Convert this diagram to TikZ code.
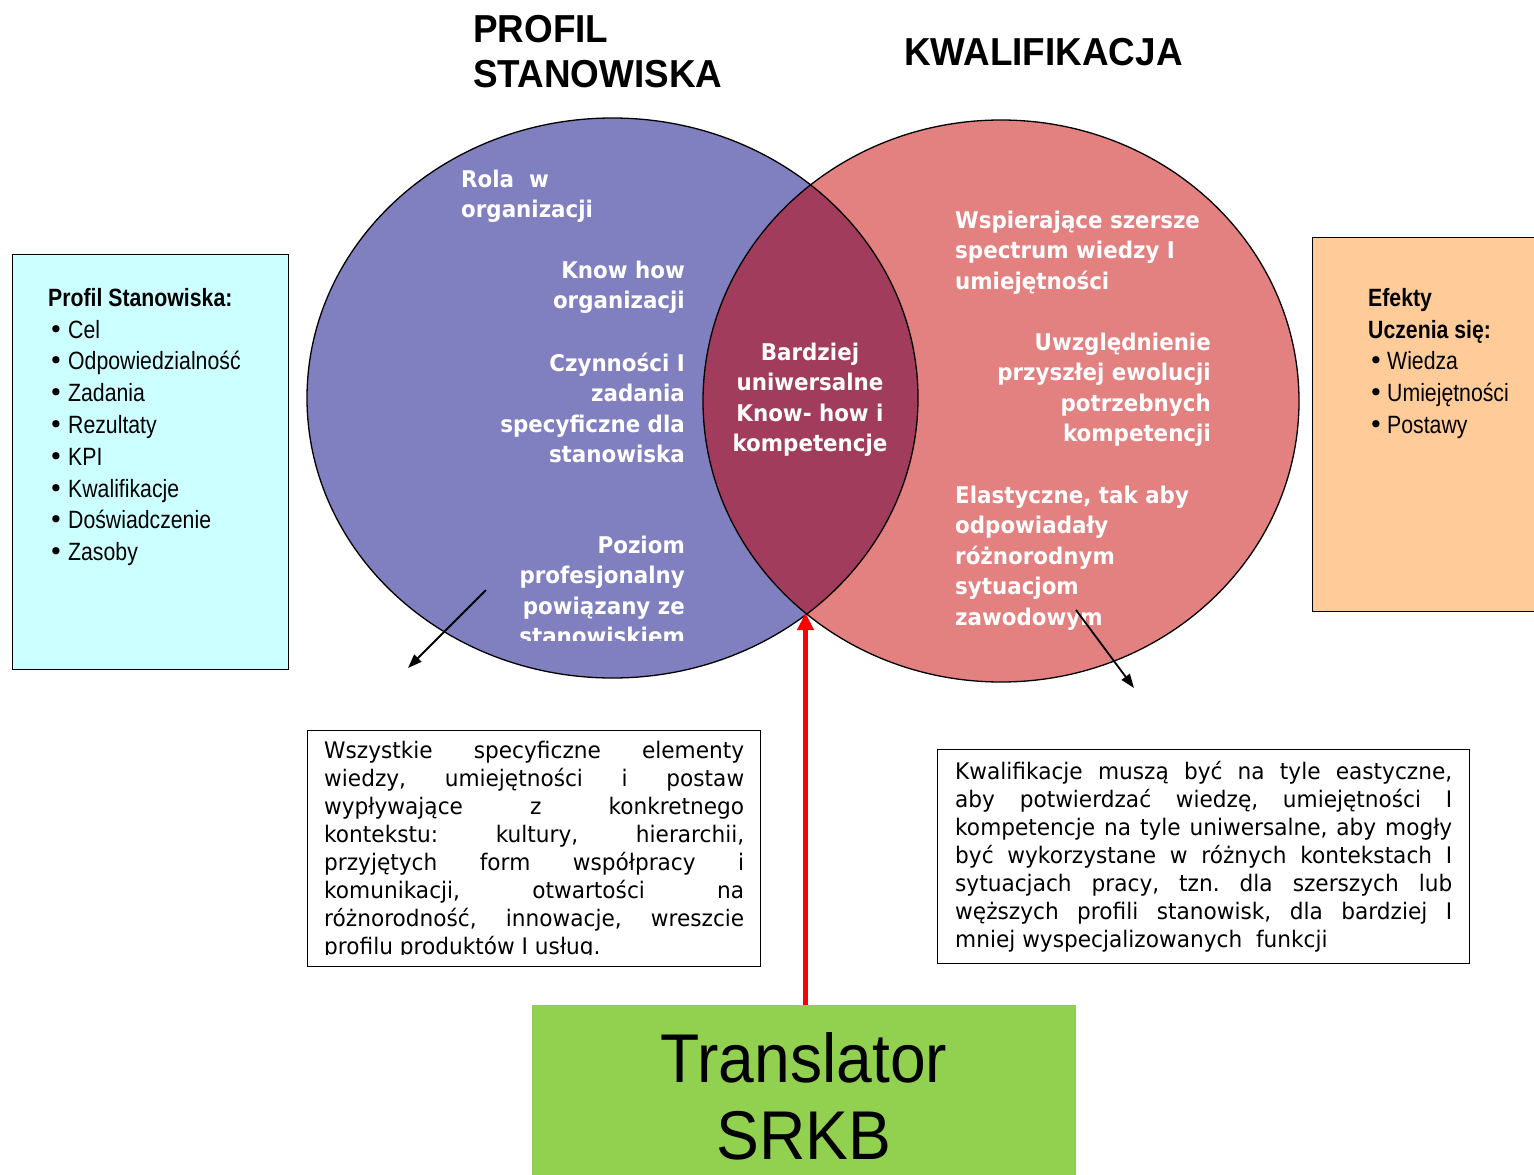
\documentclass[tikz,border=0pt]{standalone}
\usepackage{fontspec}
\usetikzlibrary{arrows.meta}
\frenchspacing
\newfontfamily\listf[FakeStretch=0.85]{Liberation Sans}
\newfontfamily\titf[FakeStretch=0.945]{Liberation Sans}
\newfontfamily\circf[FakeStretch=0.93]{DejaVu Sans}
\newfontfamily\bodyf[FakeStretch=0.95]{DejaVu Sans}
\newfontfamily\bigf[FakeStretch=0.93]{Liberation Sans}
\newfontfamily\symf{DejaVu Sans}
\definecolor{lilac}{RGB}{128,128,192}
\definecolor{salmon}{RGB}{227,128,128}
\definecolor{lenscol}{RGB}{162,60,92}
\definecolor{cyanbox}{RGB}{204,255,255}
\definecolor{peach}{RGB}{255,204,153}
\definecolor{limebox}{RGB}{146,208,80}
\newcommand\bigdot{{\symf •}}
\newcommand\bul{\makebox[20pt][l]{\hspace{0.5pt}\bigdot}}
\newcommand\bulr{\makebox[19pt][l]{\hspace{0.5pt}\bigdot}}
\newcommand\jl[1]{\makebox[420pt][s]{#1}}
\newcommand\jr[1]{\makebox[497pt][s]{#1}}
\begin{document}
\begin{tikzpicture}[x=1pt,y=-1pt,
  circtext/.style={text=white, inner sep=0pt, font=\circf\bfseries\fontsize{23}{30.6}\selectfont},
  bodytext/.style={inner sep=0pt, align=left, anchor=north west, font=\bodyf\fontsize{22.8}{28}\selectfont},
  listtext/.style={inner sep=0pt, align=left, anchor=north west, font=\listf\fontsize{25}{31.8}\selectfont},
  titletext/.style={inner sep=0pt, align=left, anchor=north west, font=\titf\bfseries\fontsize{39}{45}\selectfont},
  boxframe/.style={draw=black, line width=1.4pt, inner sep=0pt, anchor=north west},
  blackarrow/.style={-{Triangle[length=14pt,width=10pt]}, line width=1.8pt},
  redarrow/.style={-{Triangle[length=17pt,width=16pt]}, line width=5.5pt, red}]
\useasboundingbox (0,0) rectangle (1534,1175);
\fill[white] (0,0) rectangle (1534,1175);

% titles
\node[titletext] (t1) at (473,15) {PROFIL\\STANOWISKA};
\node[titletext] (t2) at (904,38) {KWALIFIKACJA};

% circles
\fill[lilac] (612.5,398) ellipse [x radius=305.5pt, y radius=280pt];
\fill[salmon] (1001,401) ellipse [x radius=298pt, y radius=281pt];
\begin{scope}
  \clip (612.5,398) ellipse [x radius=305.5pt, y radius=280pt];
  \fill[lenscol] (1001,401) ellipse [x radius=298pt, y radius=281pt];
\end{scope}
\draw[line width=1.3pt] (612.5,398) ellipse [x radius=305.5pt, y radius=280pt];
\draw[line width=1.3pt] (1001,401) ellipse [x radius=298pt, y radius=281pt];
\coordinate (lensbot) at (805.5,613);

% circle texts
\node[circtext, anchor=north west, align=left] (rola) at (461,169.5) {Rola~ w\\organizacji};
\node[circtext, anchor=north east, align=right] (know) at (685,260.5) {Know how\\organizacji};
\node[circtext, anchor=north east, align=right] (czyn) at (685,352.5) {Czynności I\\zadania\\specyficzne dla\\stanowiska};
\begin{scope}
  \clip (400,500) rectangle (720,640);
  \node[circtext, anchor=north east, align=right] (poziom) at (685,535.5) {Poziom\\profesjonalny\\powiązany ze\\stanowiskiem};
\end{scope}
\node[circtext, anchor=north, align=center] (bard) at (810,342.5) {Bardziej\\uniwersalne\\Know- how i\\kompetencje};
\node[circtext, anchor=north west, align=left] (wsp) at (955,210.5) {Wspierające szersze\\spectrum wiedzy I\\umiejętności};
\node[circtext, anchor=north east, align=right] (uwz) at (1211,332.5) {Uwzględnienie\\przyszłej ewolucji\\potrzebnych\\kompetencji};
\node[circtext, anchor=north west, align=left] (ela) at (955,485.5) {Elastyczne, tak aby\\odpowiadały\\różnorodnym\\sytuacjom\\zawodowym};

% side boxes
\node[boxframe, fill=cyanbox, minimum width=276pt, minimum height=415pt] (profbox) at (12,254) {};
\node[listtext] (proflist) at (48,288) {{\bfseries Profil Stanowiska:}\\\bul Cel\\\bul Odpowiedzialność\\\bul Zadania\\\bul Rezultaty\\\bul KPI\\\bul Kwalifikacje\\\bul Doświadczenie\\\bul Zasoby};
\node[boxframe, fill=peach, minimum width=240pt, minimum height=374pt] (efbox) at (1312,237) {};
\node[listtext] (eflist) at (1368,288) {{\bfseries Efekty}\\{\bfseries Uczenia się:}\\\bulr Wiedza\\\bulr Umiejętności\\\bulr Postawy};

% bottom text boxes
\node[boxframe, fill=white, minimum width=453pt, minimum height=236pt] (lbox) at (307,730) {};
\begin{scope}
  \clip (309,732) rectangle (758,954);
  \node[bodytext] (ltext) at (324,740.5) {\jl{Wszystkie specyficzne elementy}\\\jl{wiedzy, umiejętności i postaw}\\\jl{wypływające z konkretnego}\\\jl{kontekstu: kultury, hierarchii,}\\\jl{przyjętych form współpracy i}\\\jl{komunikacji, otwartości na}\\\jl{różnorodność, innowacje, wreszcie}\\profilu produktów I usług.};
\end{scope}
\node[boxframe, fill=white, minimum width=532pt, minimum height=214pt] (rbox) at (937,749) {};
\node[bodytext] (rtext) at (955,761.5) {\jr{Kwalifikacje muszą być na tyle eastyczne,}\\\jr{aby potwierdzać wiedzę, umiejętności I}\\\jr{kompetencje na tyle uniwersalne, aby mogły}\\\jr{być wykorzystane w różnych kontekstach I}\\\jr{sytuacjach pracy, tzn. dla szerszych lub}\\\jr{węższych profili stanowisk, dla bardziej I}\\mniej wyspecjalizowanych~ funkcji};

% translator
\node[fill=limebox, minimum width=544pt, minimum height=170pt, inner sep=0pt, anchor=north west] (trans) at (532,1005) {};
\node[inner sep=0pt, anchor=north, align=center, font=\bigf\fontsize{69}{77}\selectfont] (translabel) at (804,1032) {Translator\\SRKB};

% arrows
\draw[redarrow] (trans.north -| lensbot) -- (lensbot);
\coordinate (a1s) at (486,590);
\coordinate (a1e) at (408,668);
\coordinate (a2s) at (1076,610);
\coordinate (a2e) at (1134,688);
\draw[blackarrow] (a1s) -- (a1e);
\draw[blackarrow] (a2s) -- (a2e);
\end{tikzpicture}
\end{document}
